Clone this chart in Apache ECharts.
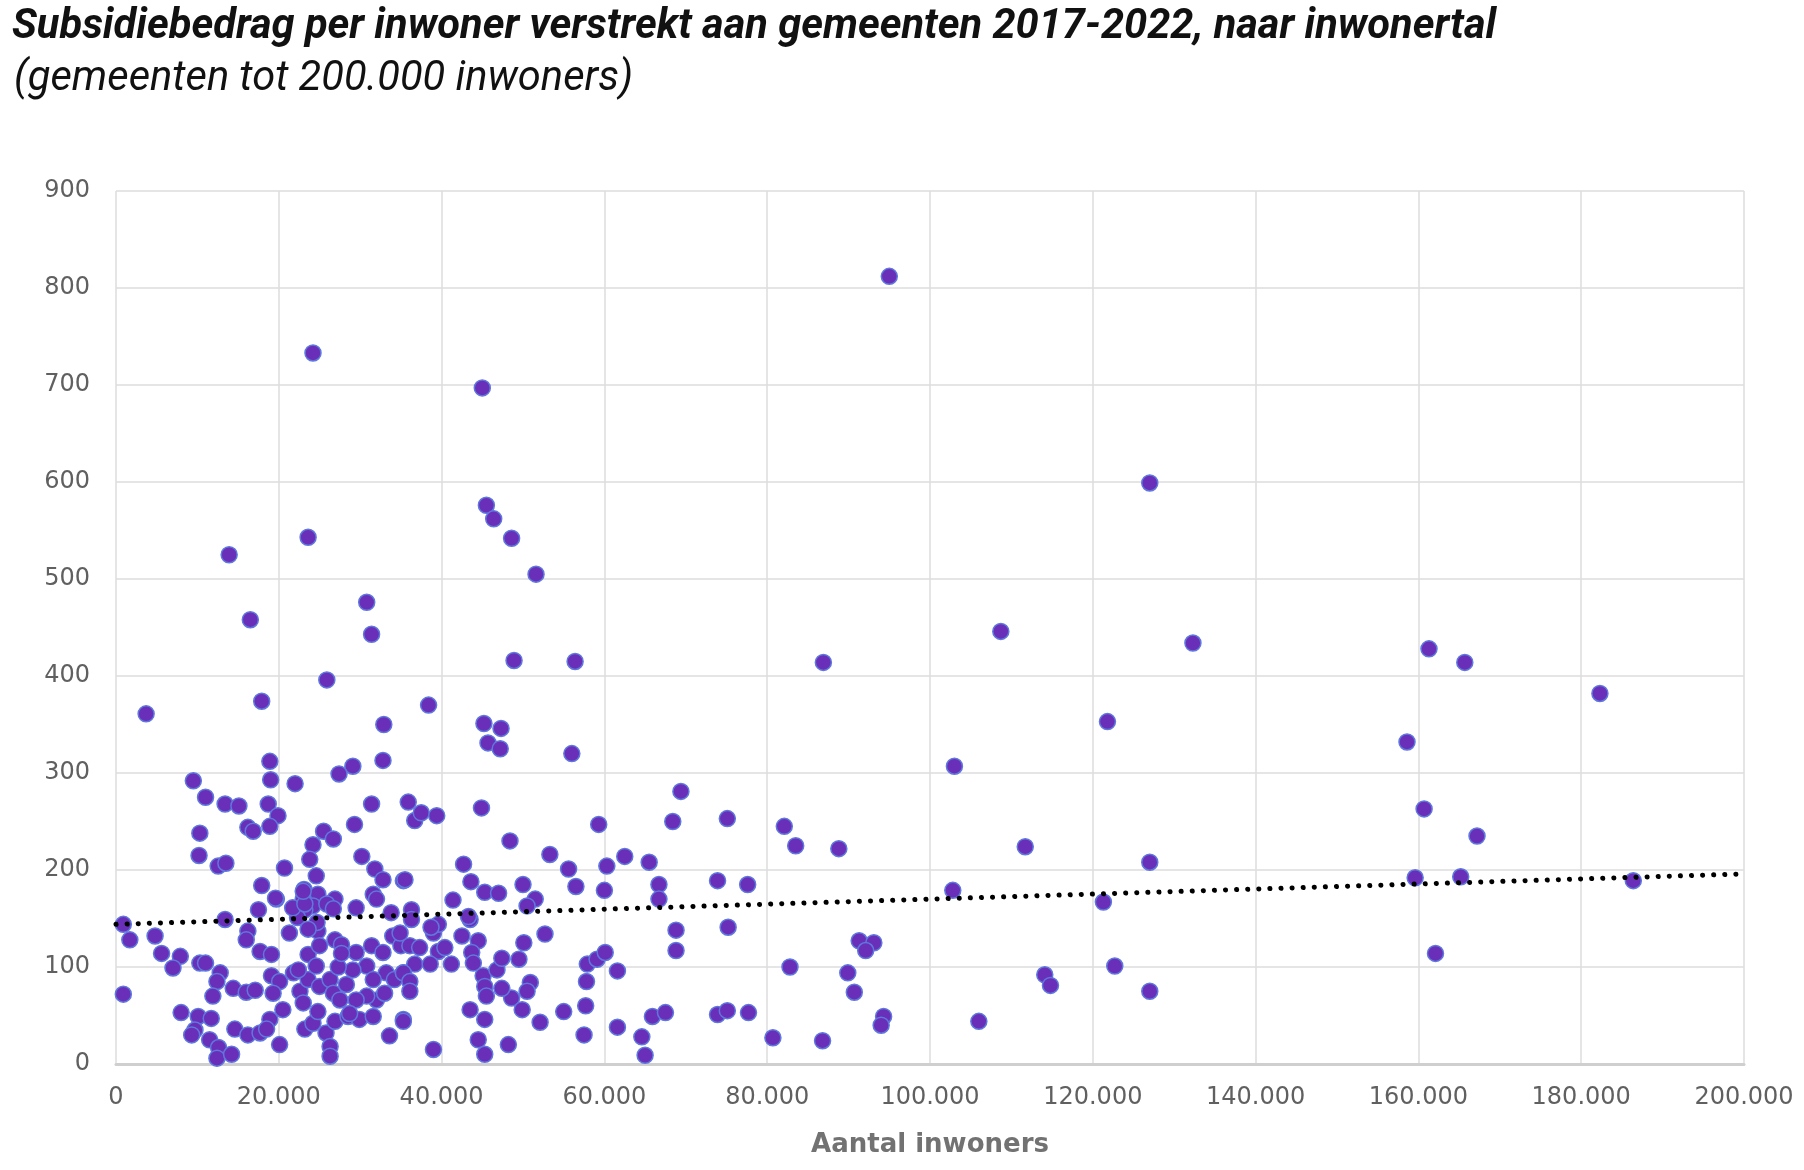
<!DOCTYPE html>
<html>
<head>
<meta charset="utf-8">
<script src="https://cdn.jsdelivr.net/npm/echarts@6/dist/echarts.min.js"></script>
<style>
  html, body { margin: 0; padding: 0; background: #fff; }
  #chart { width: 1804px; height: 1170px; }
</style>
</head>
<body>
<div id="chart"></div>
<script>
// aantal inwoners per gemeente
const inwoners = [
  95000, 24200, 45000, 127000, 45500, 46400, 23600, 48600, 13900, 51600, 30800, 16500, 108700, 31400, 132300, 161300,
  48900, 56400, 86900, 165700, 182300, 25900, 3700, 17900, 38400, 121800, 32900, 45200, 47300, 45700, 47200, 158600,
  56000, 18900, 32800, 29100, 103000, 27400, 9500, 19000, 22000, 69400, 11000, 18700, 13400, 15100, 31400, 35900,
  160700, 75100, 68400, 82100, 167200, 111700, 83500, 88800, 127000, 159600, 165200, 186400, 73900, 77600, 102800, 121300,
  75200, 68800, 91300, 93100, 92100, 68800, 162100, 82800, 122700, 89900, 114100, 114800, 127000, 90700, 73900, 75100,
  77700, 94300, 106000, 94000, 80700, 86800,
  19900, 10300, 16200, 16850, 18900, 29300, 10200, 12550, 13500, 20700, 24200, 23800, 25500, 26700, 24600, 30200,
  31800, 32800, 35300, 17900, 19700, 23100, 24800, 23000, 24200, 23200, 26900, 17500, 16200, 16000, 22300, 21700,
  24800, 29500, 31600, 32000, 33800, 900, 1700, 4800, 5600, 7900, 7000, 10300, 11000, 13400, 17700, 19100,
  21300, 23600, 25000, 26900, 27700, 29500, 31400, 32800, 34000, 35000, 900, 12800, 12400, 11900, 14400, 16000,
  17100, 8000, 10100, 9700, 9300, 11700, 11500, 12600, 12400, 14200, 14600, 16200, 17700, 19100, 20100, 19300,
  20500, 18900, 18500, 20100, 21800, 22600, 23000, 23200, 24200, 24800, 23600, 25000, 26300, 26700, 27500, 28300,
  25800, 26300, 26300, 26900, 28500, 29900, 31600, 32000, 33000, 33200, 34200, 35300, 30800, 31600, 30800, 33600,
  35300, 29100, 29500, 28700, 22400, 24600, 27300, 24700, 23600, 27700, 25900, 26700, 23200, 23000, 19600,
  36700, 37500, 39400, 44900, 48400, 59300, 53300, 55600, 56500, 60300, 60000, 62500, 65500, 66700, 66700, 42700,
  43600, 45300, 47000, 50000, 51500, 50500, 41400, 43500, 35500, 36300, 36300, 39000, 39600, 34900, 52700, 42500,
  44500, 36100, 37300, 39600, 40400, 36700, 38600, 41200, 43700, 43900, 45100, 45300, 46800, 47400, 49500, 50100,
  50900, 50500, 48600, 47400, 45500, 35300, 36100, 36100, 35300, 43500, 45300, 44500, 45300, 48200, 49900, 52100,
  55000, 39000, 57900, 59100, 60100, 57800, 61600, 57700, 57500, 61600, 64600, 65000, 65900, 67500, 43300, 38700
];
// subsidiebedrag per inwoner (euro)
const subsidie = [
  812, 733, 697, 599, 576, 562, 543, 542, 525, 505, 476, 458, 446, 443, 434, 428,
  416, 415, 414, 414, 382, 396, 361, 374, 370, 353, 350, 351, 346, 331, 325, 332,
  320, 312, 313, 307, 307, 299, 292, 293, 289, 281, 275, 268, 268, 266, 268, 270,
  263, 253, 250, 245, 235, 224, 225, 222, 208, 192, 193, 189, 189, 185, 179, 167,
  141, 138, 127, 125, 117, 117, 114, 100, 101, 94, 92, 81, 75, 74, 51, 55,
  53, 49, 44, 40, 27, 24,
  256, 238, 244, 240, 245, 247, 215, 204, 207, 202, 226, 211, 240, 232, 194, 214,
  201, 190, 189, 184, 170, 180, 175, 170, 163, 159, 170, 159, 137, 128, 151, 161,
  137, 161, 175, 170, 156, 144, 128, 132, 114, 111, 99, 104, 104, 149, 116, 113,
  135, 113, 122, 128, 123, 115, 122, 115, 132, 122, 72, 94, 85, 70, 78, 74,
  76, 53, 49, 35, 30, 47, 25, 17, 6, 10, 36, 30, 32, 91, 85, 73,
  56, 46, 36, 20, 94, 75, 63, 36, 42, 54, 87, 80, 87, 73, 66, 82,
  32, 18, 8, 44, 49, 46, 49, 66, 73, 94, 87, 94, 101, 87, 70, 29,
  46, 97, 66, 52, 97, 101, 100, 146, 139, 114, 165, 160, 165, 178, 171,
  251, 259, 256, 264, 230, 247, 216, 201, 183, 204, 179, 214, 208, 185, 170, 206,
  188, 177, 176, 185, 170, 163, 169, 149, 190, 159, 149, 135, 144, 135, 134, 132,
  127, 122, 120, 116, 120, 103, 103, 103, 115, 104, 91, 80, 97, 109, 108, 125,
  84, 75, 68, 78, 70, 94, 85, 75, 44, 56, 46, 25, 10, 20, 56, 43,
  54, 15, 103, 108, 115, 85, 96, 60, 30, 38, 28, 9, 49, 53, 152, 141
];
const trendX = [0, 200000];
const trendY = [144, 196];

const xTicks = { min: 0, max: 200000, interval: 20000 };
const yTicks = { min: 0, max: 900, interval: 100 };

const points = inwoners.map((x, i) => [x, subsidie[i]]);
const trend = trendX.map((x, i) => [x, trendY[i]]);

const fmt = v => String(v).replace(/\B(?=(\d{3})+(?!\d))/g, '.');

const chart = echarts.init(document.getElementById('chart'), null, { renderer: 'canvas' });
chart.setOption({
  animation: false,
  backgroundColor: '#ffffff',
  title: [
    {
      text: 'Subsidiebedrag per inwoner verstrekt aan gemeenten 2017-2022, naar inwonertal',
      left: 7, top: 2,
      textStyle: { fontFamily: 'Roboto', fontStyle: 'italic', fontWeight: 'bold', fontSize: 41.6, color: '#111' }
    },
    {
      text: '(gemeenten tot 200.000 inwoners)',
      left: 9, top: 54,
      textStyle: { fontFamily: 'Roboto', fontStyle: 'italic', fontWeight: 'normal', fontSize: 41.6, color: '#111' }
    }
  ],
  grid: { left: 116, right: 60, top: 191, bottom: 106, containLabel: false },
  xAxis: {
    type: 'value',
    min: xTicks.min, max: xTicks.max, interval: xTicks.interval,
    name: 'Aantal inwoners',
    nameLocation: 'middle',
    nameGap: 68,
    nameTextStyle: { fontFamily: 'DejaVu Sans', fontWeight: 'bold', fontSize: 26, color: '#727272' },
    axisLine: { show: true, lineStyle: { color: '#cfcfcf', width: 3 } },
    axisTick: { show: false },
    axisLabel: { fontFamily: 'DejaVu Sans', fontSize: 24, color: '#606060', margin: 22, formatter: fmt },
    splitLine: { show: true, lineStyle: { color: '#dcdcdc', width: 1.5 } }
  },
  yAxis: {
    type: 'value',
    min: yTicks.min, max: yTicks.max, interval: yTicks.interval,
    axisLine: { show: false },
    axisTick: { show: false },
    axisLabel: { fontFamily: 'DejaVu Sans', fontSize: 24, color: '#606060', margin: 26 },
    splitLine: { show: true, lineStyle: { color: '#dcdcdc', width: 1.5 } }
  },
  series: [
    {
      type: 'scatter',
      data: points,
      symbolSize: 16,
      itemStyle: { color: '#6a2fb8', borderColor: '#5f78dd', borderWidth: 1.5, opacity: 1 },
      z: 2
    },
    {
      type: 'line',
      data: trend,
      symbol: 'none',
      lineStyle: { color: '#000', width: 5, type: [0.1, 11], cap: 'round' },
      z: 3
    }
  ]
});
</script>
</body>
</html>
